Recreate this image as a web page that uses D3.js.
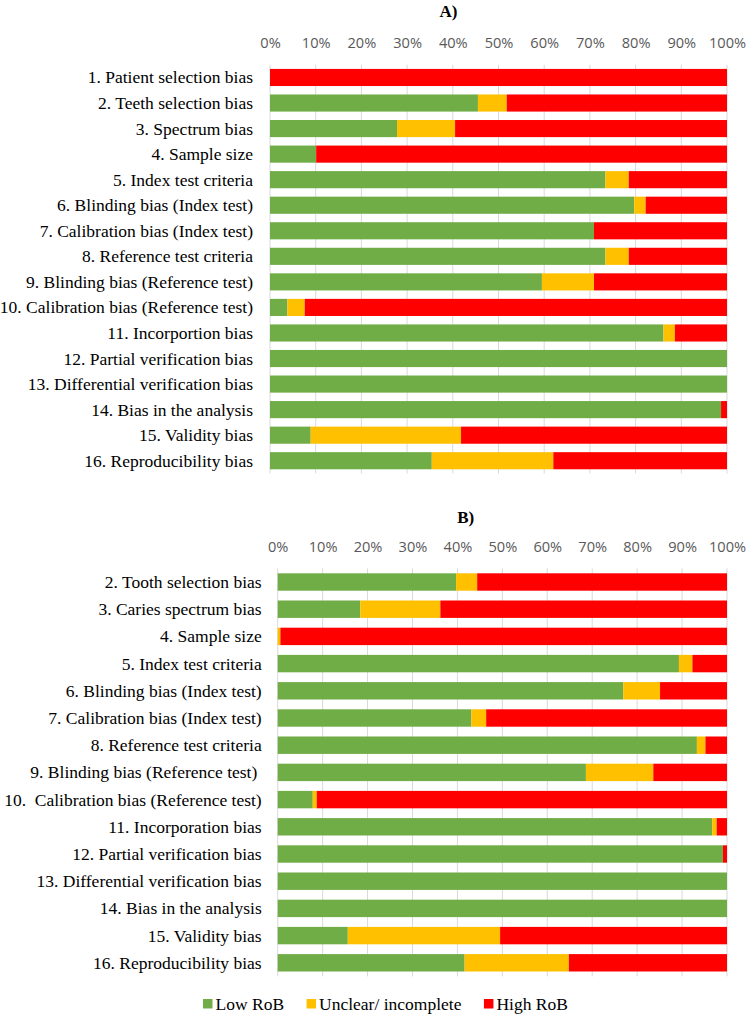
<!DOCTYPE html>
<html>
<head>
<meta charset="utf-8">
<script src="https://cdn.jsdelivr.net/npm/d3@7"></script>
<style>
  html, body { margin: 0; padding: 0; background: #fff; }
  svg { display: block; }
</style>
</head>
<body>
<svg id="chart" width="749" height="1016"></svg>
<script>
// ---------------- DATA ----------------
const seriesNames = ["Low RoB", "Unclear/ incomplete", "High RoB"];
const tickValues = [0, 10, 20, 30, 40, 50, 60, 70, 80, 90, 100];

const categoriesA = [
  "1. Patient selection bias",
  "2. Teeth selection bias",
  "3. Spectrum bias",
  "4. Sample size",
  "5. Index test criteria",
  "6. Blinding bias (Index test)",
  "7. Calibration bias (Index test)",
  "8. Reference test criteria",
  "9. Blinding bias (Reference test)",
  "10. Calibration bias (Reference test)",
  "11. Incorportion bias",
  "12. Partial verification bias",
  "13. Differential verification bias",
  "14. Bias in the analysis",
  "15. Validity bias",
  "16. Reproducibility bias"
];
const lowA     = [0, 45.5, 27.8, 10.1, 73.4, 79.7, 70.9, 73.4, 59.5, 3.8, 86.1, 100, 100, 98.7, 8.9, 35.4];
const unclearA = [0, 6.3, 12.7, 0, 5.1, 2.5, 0, 5.1, 11.4, 3.8, 2.5, 0, 0, 0, 32.9, 26.6];
const highA    = [100, 48.2, 59.5, 89.9, 21.5, 17.8, 29.1, 21.5, 29.1, 92.4, 11.4, 0, 0, 1.3, 58.2, 38.0];

const categoriesB = [
  "2. Tooth selection bias",
  "3. Caries spectrum bias",
  "4. Sample size",
  "5. Index test criteria",
  "6. Blinding bias (Index test)",
  "7. Calibration bias (Index test)",
  "8. Reference test criteria",
  "9. Blinding bias (Reference test)\u00a0",
  "10.\u00a0 Calibration bias (Reference test)",
  "11. Incorporation bias",
  "12. Partial verification bias",
  "13. Differential verification bias",
  "14. Bias in the analysis",
  "15. Validity bias",
  "16. Reproducibility bias"
];
const lowB     = [39.7, 18.4, 0, 89.3, 76.9, 43.1, 93.3, 68.6, 7.8, 96.7, 99.1, 100, 100, 15.6, 41.6];
const unclearB = [4.7, 17.8, 0.6, 3.0, 8.2, 3.3, 1.9, 15.0, 0.9, 1.0, 0, 0, 0, 33.9, 23.2];
const highB    = [55.6, 63.8, 99.4, 7.7, 14.9, 53.6, 4.8, 16.4, 91.3, 2.3, 0.9, 0, 0, 50.5, 35.2];

// ---------------- STYLE ----------------
const colors = ["#70AD47", "#FFC000", "#FF0000"];
const serif = "'Liberation Serif', 'Times New Roman', serif";
const sans = "'Open Sans', 'Liberation Sans', sans-serif";

const svg = d3.select("#chart");

function drawPanel(cfg) {
  const rows = cfg.cats.map((c, i) => ({
    cat: c, low: cfg.low[i], unclear: cfg.unclear[i], high: cfg.high[i]
  }));
  const x = d3.scaleLinear().domain([0, 100]).range([cfg.x0, cfg.x1]);
  const y = d3.scaleBand().domain(cfg.cats).range([cfg.y0, cfg.y1]).paddingInner(cfg.pad).paddingOuter(cfg.pad / 2);

  const g = svg.append("g");

  // title
  g.append("text")
    .attr("x", cfg.titleX).attr("y", cfg.titleY)
    .attr("text-anchor", "middle").attr("dominant-baseline", "central")
    .style("font-family", serif).style("font-weight", "bold").style("font-size", "17px")
    .text(cfg.title);

  // gridlines
  g.append("g").selectAll("line").data(tickValues).join("line")
    .attr("x1", d => x(d)).attr("x2", d => x(d))
    .attr("y1", cfg.y0).attr("y2", cfg.y1)
    .attr("stroke", "#D9D9D9").attr("stroke-width", 1);

  // top axis labels
  const ax = g.append("g").attr("transform", `translate(0,${cfg.tickBase})`)
    .call(d3.axisTop(x).tickValues(tickValues).tickSize(0).tickPadding(0).tickFormat(d => d + "%"));
  ax.select(".domain").remove();
  ax.selectAll("text").style("font-family", sans).style("font-size", "14.6px").attr("fill", "#595959");

  // bars
  const stack = d3.stack().keys(["low", "unclear", "high"]);
  const layers = stack(rows);
  g.append("g").selectAll("g").data(layers).join("g")
    .attr("fill", (d, i) => colors[i])
    .selectAll("rect").data(d => d).join("rect")
    .attr("x", d => x(d[0]))
    .attr("width", d => Math.max(0, x(d[1]) - x(d[0])))
    .attr("y", d => y(d.data.cat))
    .attr("height", y.bandwidth());

  // category labels
  g.append("g").selectAll("text").data(cfg.cats).join("text")
    .attr("x", cfg.x0 - cfg.labelGap)
    .attr("y", d => y(d) + y.bandwidth() / 2)
    .attr("text-anchor", "end").attr("dominant-baseline", "central")
    .style("font-family", serif).style("font-size", "17.5px").attr("fill", "#000")
    .style("white-space", "pre")
    .text(d => d);
}

drawPanel({
  title: "A)", titleX: 448.5, titleY: 11,
  cats: categoriesA, low: lowA, unclear: unclearA, high: highA,
  x0: 270, x1: 727, y0: 64.7, y1: 473.5, pad: 0.33,
  tickBase: 47.5, labelGap: 17
});

drawPanel({
  title: "B)", titleX: 465.7, titleY: 517,
  cats: categoriesB, low: lowB, unclear: unclearB, high: highB,
  x0: 277.7, x1: 727, y0: 568.4, y1: 976.4, pad: 0.36,
  tickBase: 551.5, labelGap: 16
});

// legend
const legend = svg.append("g");
let lx = 203;
const ly = 1003.5;
seriesNames.forEach((name, i) => {
  legend.append("rect").attr("x", lx).attr("y", ly - 4.5).attr("width", 9.5).attr("height", 9.5).attr("fill", colors[i]);
  const t = legend.append("text").attr("x", lx + 12.5).attr("y", ly)
    .attr("dominant-baseline", "central")
    .style("font-family", serif).style("font-size", "17.5px").attr("fill", "#000")
    .text(name);
  lx += 12.5 + t.node().getComputedTextLength() + 22.5;
});
</script>
</body>
</html>
